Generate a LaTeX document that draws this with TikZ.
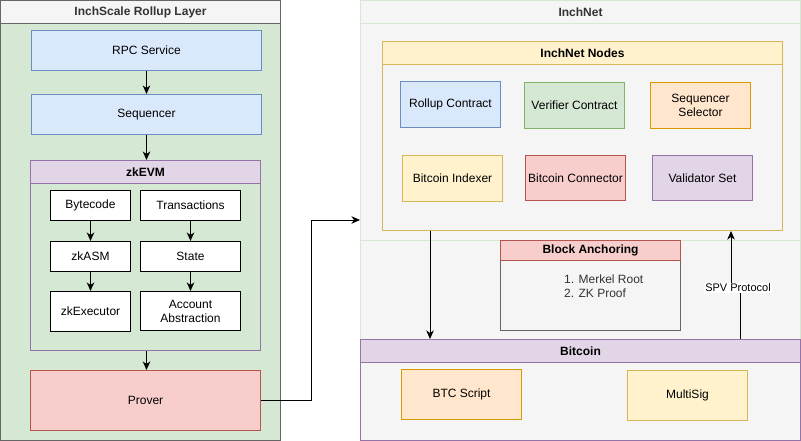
\documentclass[tikz,border=0pt]{standalone}
\usepackage{fontspec}
\setmainfont{Liberation Sans}
\usetikzlibrary{arrows.meta}

\definecolor{blueF}{HTML}{DAE8FC}\definecolor{blueD}{HTML}{6C8EBF}
\definecolor{greenF}{HTML}{D5E8D4}\definecolor{greenD}{HTML}{82B366}
\definecolor{orangeF}{HTML}{FFE6CC}\definecolor{orangeD}{HTML}{D79B00}
\definecolor{yellowF}{HTML}{FFF2CC}\definecolor{yellowD}{HTML}{D6B656}
\definecolor{redF}{HTML}{F8CECC}\definecolor{redD}{HTML}{B85450}
\definecolor{purpleF}{HTML}{E1D5E7}\definecolor{purpleD}{HTML}{9673A6}
\definecolor{greyF}{HTML}{F5F5F5}\definecolor{greyD}{HTML}{666666}
\definecolor{greyT}{HTML}{333333}

\tikzset{
  box/.style={draw, line width=1pt, anchor=north west, inner sep=1pt, align=center,
    font=\fontsize{12}{14}\selectfont},
  lane/.style={box, font=\bfseries\fontsize{12}{14}\selectfont},
  arr/.style={-{Stealth[length=8.5pt,width=7.5pt,inset=2.5pt]}, line width=1pt},
}

\begin{document}
\begin{tikzpicture}[x=1pt,y=1pt,yscale=-1]
    \useasboundingbox (0,0) rectangle (801,441);

    %Rollup layer (left)
    \node (rollup) [box, draw=greyD, fill=greenF, minimum width=280, minimum height=440] at (0,0) {};
    \node (rolluptitle) [lane, draw=greyD, fill=greyF, text=greyT, minimum width=280, minimum height=23] at (0,0) {InchScale Rollup Layer};
    \node (rpc) [box, draw=blueD, fill=blueF, minimum width=230, minimum height=40] at (31,30) {RPC Service};
    \node (seq) [box, draw=blueD, fill=blueF, minimum width=230, minimum height=40] at (31,94) {Sequencer};

    %zkEVM
    \node (zk) [box, draw=purpleD, fill=greenF, minimum width=230, minimum height=190] at (30,160) {};
    \node (zktitle) [lane, draw=purpleD, fill=purpleF, minimum width=230, minimum height=23] at (30,160) {zkEVM};
    \node (bytecode) [box, fill=white, minimum width=80, minimum height=30] at (50,190) {Bytecode};
    \node (txs) [box, fill=white, minimum width=100, minimum height=30] at (140,190) {Transactions};
    \node (zkasm) [box, fill=white, minimum width=80, minimum height=30] at (50,241) {zkASM};
    \node (state) [box, fill=white, minimum width=100, minimum height=30] at (140,241) {State};
    \node (zkexec) [box, fill=white, minimum width=80, minimum height=40] at (50,291) {zkExecutor};
    \node (account) [box, fill=white, minimum width=100, minimum height=39] at (140,291) {Account\\Abstraction};

    \node (prover) [box, draw=redD, fill=redF, minimum width=230, minimum height=60] at (30,370) {Prover};

    %InchNet (right)
    \node (right) [box, draw=greenF, fill=greyF, minimum width=440, minimum height=440] at (360,0) {};
    \node (inchnet) [box, draw=greenF, fill=greyF, minimum width=440, minimum height=240] at (360,0) {};
    \node (inchnettitle) [lane, draw=greenF, fill=greyF, text=greyT, minimum width=440, minimum height=23] at (360,0) {InchNet};

    \node (nodes) [box, draw=yellowD, fill=greyF, minimum width=400, minimum height=189] at (382,41) {};
    \node (nodestitle) [lane, draw=yellowD, fill=yellowF, minimum width=400, minimum height=23] at (382,41) {InchNet Nodes};
    \node (rollupc) [box, draw=blueD, fill=blueF, minimum width=100, minimum height=46] at (400,81) {Rollup Contract};
    \node (verifier) [box, draw=greenD, fill=greenF, minimum width=100, minimum height=46] at (524,82) {Verifier Contract};
    \node (selector) [box, draw=orangeD, fill=orangeF, minimum width=100, minimum height=46] at (650,82) {Sequencer\\Selector};
    \node (indexer) [box, draw=yellowD, fill=yellowF, minimum width=100, minimum height=46] at (402,155) {Bitcoin Indexer};
    \node (connector) [box, draw=redD, fill=redF, minimum width=100, minimum height=45] at (525,155) {Bitcoin Connector};
    \node (validators) [box, draw=purpleD, fill=purpleF, minimum width=100, minimum height=45] at (652,155) {Validator Set};

    %Block anchoring
    \node (anchor) [box, draw=greyD, fill=greyF, minimum width=180, minimum height=70] at (500,260) {};
    \node (anchortitle) [lane, draw=redD, fill=redF, minimum width=180, minimum height=20] at (500,240) {Block Anchoring};
    \node (anchortext) [anchor=north west, inner sep=0pt, align=left, text=greyT, font=\fontsize{12}{14}\selectfont] at (564,275) {1. Merkel Root\\2. ZK Proof};

    %Bitcoin
    \node (bitcoin) [box, draw=purpleD, fill=greyF, minimum width=440, minimum height=101] at (360,339) {};
    \node (bitcointitle) [lane, draw=purpleD, fill=purpleF, minimum width=440, minimum height=23] at (360,339) {Bitcoin};
    \node (script) [box, draw=orangeD, fill=orangeF, minimum width=120, minimum height=50] at (401,369) {BTC Script};
    \node (multisig) [box, draw=yellowD, fill=yellowF, minimum width=120, minimum height=50] at (627,370) {MultiSig};

    % Connectors
    \coordinate (entry) at (360,220);
    \coordinate (spvbend) at (740,288);
    \draw [arr] (rpc.south) -- (seq.north);
    \draw [arr] (seq.south) -- (seq.south |- zktitle.north);
    \draw [arr] (bytecode.south) -- (zkasm.north);
    \draw [arr] (zkasm.south) -- (zkexec.north);
    \draw [arr] (txs.south) -- (state.north);
    \draw [arr] (state.south) -- (account.north);
    \draw [arr] (zk.south -| seq.south) -- (prover.north -| seq.south);
    \draw [arr] (prover.east) -- ++(50,0) |- (entry);
    \draw [arr] (nodes.south -| 430,0) -- (bitcointitle.north -| 430,0);
    \draw [arr] (bitcointitle.north -| spvbend) -- (spvbend) -- ++(-9,0) -- (nodes.south -| 731,0);
    \node (spv) [fill=white, inner sep=1pt, font=\fontsize{11}{13}\selectfont] at (738,288) {SPV Protocol};

\end{tikzpicture}
\end{document}
